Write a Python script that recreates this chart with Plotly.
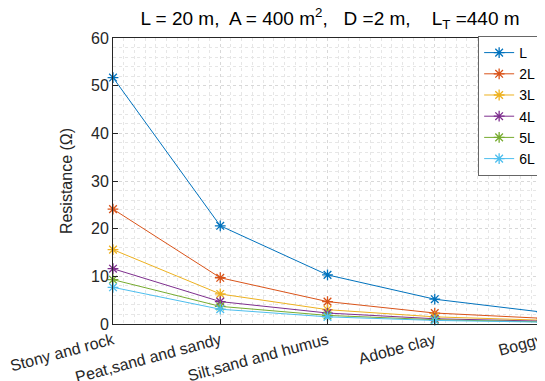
import plotly.graph_objects as go

categories = ["Stony and rock", "Peat,sand and sandy", "Silt,sand and humus", "Adobe clay", "Boggy"]
x_pos = [1, 2, 3, 4, 5]
series_names = ["L", "2L", "3L", "4L", "5L", "6L"]
L_vals = [51.7, 20.6, 10.3, 5.2, 2.5]
L2_vals = [24.1, 9.7, 4.7, 2.3, 1.2]
L3_vals = [15.6, 6.3, 3.0, 1.5, 0.8]
L4_vals = [11.6, 4.7, 2.3, 1.1, 0.6]
L5_vals = [9.3, 3.7, 1.8, 0.9, 0.45]
L6_vals = [7.7, 3.1, 1.5, 0.75, 0.4]
all_vals = [L_vals, L2_vals, L3_vals, L4_vals, L5_vals, L6_vals]
colors = ["#0072BD", "#D95319", "#EDB120", "#7E2F8E", "#77AC30", "#4DBEEE"]

fig = go.Figure()
for name, vals, c in zip(series_names, all_vals, colors):
    fig.add_trace(go.Scatter(
        x=x_pos, y=vals, name=name, mode="lines+markers",
        line=dict(color=c, width=1),
        marker=dict(symbol="asterisk-open", size=9, color=c, line=dict(color=c, width=1.3)),
        cliponaxis=False,
    ))

W, H = 537, 373
axcol = "#262626"
fig.update_layout(
    width=W, height=H,
    margin=dict(l=105, r=3, t=30, b=57, autoexpand=False),
    paper_bgcolor="white", plot_bgcolor="white",
    font=dict(family="Liberation Sans, Arial, sans-serif", size=14, color=axcol),
    title=dict(
        text="L = 20 m,  A = 400 m<sup>2</sup>,   D =2 m,    L<sub>T</sub> =440 m",
        x=322 / W, xanchor="center", y=1 - 10 / H, yanchor="middle",
        font=dict(size=19, color="black"),
    ),
    showlegend=True,
    legend=dict(
        x=0.998, xanchor="right", y=1.007, yanchor="top",
        bgcolor="white", bordercolor="#666666", borderwidth=1,
        font=dict(size=14, color="black"),
        tracegroupgap=0,
    ),
    xaxis=dict(
        range=[1, 5], tickvals=x_pos, ticktext=categories, tickangle=-15,
        showline=True, linecolor=axcol, linewidth=1, mirror=True,
        ticks="inside", ticklen=5, tickcolor=axcol,
        showgrid=True, gridcolor="#d8d8d8", griddash="dot", gridwidth=1,
        minor=dict(dtick=0.1, showgrid=True, gridcolor="#e6e6e6", griddash="dot", ticks=""),
        zeroline=False, tickfont=dict(size=16, color=axcol), automargin=False,
    ),
    yaxis=dict(
        range=[0, 60], dtick=10,
        showline=True, linecolor=axcol, linewidth=1, mirror=True,
        ticks="inside", ticklen=5, tickcolor=axcol,
        showgrid=True, gridcolor="#d8d8d8", griddash="dot", gridwidth=1,
        minor=dict(dtick=2, showgrid=True, gridcolor="#e6e6e6", griddash="dot", ticks=""),
        zeroline=False, tickfont=dict(size=16, color=axcol), automargin=False,
        title=dict(text="Resistance (Ω)", font=dict(size=16, color=axcol), standoff=14),
    ),
)

fig.write_html("out.html")
